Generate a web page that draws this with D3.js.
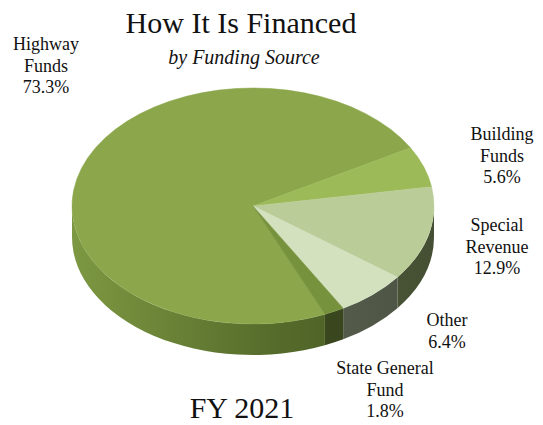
<!DOCTYPE html>
<html>
<head>
<meta charset="utf-8">
<script src="https://cdn.jsdelivr.net/npm/d3@7"></script>
<style>
  html, body { margin: 0; padding: 0; background: #fff; }
  svg { display: block; }
  text { font-family: "Liberation Serif", "Times New Roman", serif; fill: #111; }
</style>
</head>
<body>
<svg id="chart" width="543" height="425"></svg>
<script>
// Funding sources, in clockwise drawing order
const categories = ["Highway Funds", "Building Funds", "Special Revenue", "Other", "State General Fund"];
const shares = [73.3, 5.6, 12.9, 6.4, 1.8];
const labelLines = [
  ["Highway", "Funds"],
  ["Building", "Funds"],
  ["Special", "Revenue"],
  ["Other"],
  ["State General", "Fund"]
];
const titleText = "How It Is Financed";
const subtitleText = "by Funding Source";
const yearText = "FY 2021";

const svg = d3.select("#chart");

// Tilted pie geometry
const cx = 253, cy = 206, rx = 181, ry = 118, depth = 31;
const startDeg = 156.6;

const topColor = d3.scaleOrdinal().domain(categories)
  .range(["#8ba64b", "#9cba58", "#bacd98", "#d3e1bf", "#77923c"]);
const sideColors = {
  "Highway Funds": ["#7d9842", "#566c2b", "#435421"],
  "Building Funds": ["#6e8838", "#5a7030", "#4a5d26"],
  "Special Revenue": ["#5b6947", "#515e3c", "#454f33"],
  "Other": ["#646c58", "#596150", "#4b5243"],
  "State General Fund": ["#435224", "#3c4a1f", "#36421c"]
};

const pie = d3.pie().sort(null).value(d => d)
  .startAngle(startDeg * Math.PI / 180)
  .endAngle(startDeg * Math.PI / 180 + 2 * Math.PI);
const arcs = pie(shares);

// Angle convention follows d3: 0 at 12 o'clock, increasing clockwise
const pt = (a, dy = 0) => [cx + rx * Math.sin(a), cy - ry * Math.cos(a) + dy];

function topPath(a0, a1) {
  const p0 = pt(a0), p1 = pt(a1);
  const large = (a1 - a0) > Math.PI ? 1 : 0;
  return `M${cx},${cy}L${p0[0]},${p0[1]}A${rx},${ry} 0 ${large} 1 ${p1[0]},${p1[1]}Z`;
}

function wallPath(a0, a1) {
  const t0 = pt(a0), t1 = pt(a1), b0 = pt(a0, depth), b1 = pt(a1, depth);
  const large = (a1 - a0) > Math.PI ? 1 : 0;
  return `M${t0[0]},${t0[1]}A${rx},${ry} 0 ${large} 1 ${t1[0]},${t1[1]}` +
         `L${b1[0]},${b1[1]}A${rx},${ry} 0 ${large} 0 ${b0[0]},${b0[1]}Z`;
}

// Front half of the rim lies between 90° and 270°
function frontSpans(a0, a1) {
  const spans = [];
  const lo = Math.PI / 2, hi = 3 * Math.PI / 2;
  for (let k = -1; k <= 2; k++) {
    const off = k * 2 * Math.PI;
    const s = Math.max(a0, lo + off), e = Math.min(a1, hi + off);
    if (e > s) spans.push([s, e]);
  }
  return spans;
}

const defs = svg.append("defs");
categories.forEach((c, i) => {
  const g = defs.append("linearGradient")
    .attr("id", "side" + i)
    .attr("gradientUnits", "userSpaceOnUse")
    .attr("x1", cx - rx).attr("y1", 0)
    .attr("x2", cx + rx).attr("y2", 0);
  const cols = sideColors[c];
  g.append("stop").attr("offset", "0%").attr("stop-color", cols[0]);
  g.append("stop").attr("offset", "55%").attr("stop-color", cols[1]);
  g.append("stop").attr("offset", "100%").attr("stop-color", cols[2]);
});

// Rim walls
const walls = svg.append("g");
arcs.forEach((d, i) => {
  frontSpans(d.startAngle, d.endAngle).forEach(([s, e]) => {
    walls.append("path")
      .attr("d", wallPath(s, e))
      .attr("fill", `url(#side${i})`);
  });
});

// Top faces
svg.append("g").selectAll("path")
  .data(arcs)
  .join("path")
  .attr("d", d => topPath(d.startAngle, d.endAngle))
  .attr("fill", (d, i) => topColor(categories[i]))
  .attr("stroke", (d, i) => topColor(categories[i]))
  .attr("stroke-width", 0.5);

// Titles
svg.append("text").attr("x", 241).attr("y", 33)
  .attr("text-anchor", "middle").attr("font-size", 30).text(titleText);
svg.append("text").attr("x", 244).attr("y", 64)
  .attr("text-anchor", "middle").attr("font-size", 20)
  .attr("font-style", "italic").text(subtitleText);
svg.append("text").attr("x", 242).attr("y", 418)
  .attr("text-anchor", "middle").attr("font-size", 30).text(yearText);

// Slice labels
const labelPos = [
  [46, 50], [502, 140], [497, 231], [447, 326], [385, 374]
];
const lineGap = 21.5;
const fmt = d3.format(".1f");
categories.forEach((c, i) => {
  const lines = labelLines[i].concat([fmt(shares[i]) + "%"]);
  const t = svg.append("text")
    .attr("text-anchor", "middle")
    .attr("font-size", 18);
  lines.forEach((ln, j) => {
    t.append("tspan")
      .attr("x", labelPos[i][0])
      .attr("y", labelPos[i][1] + j * lineGap)
      .text(ln);
  });
});
</script>
</body>
</html>
